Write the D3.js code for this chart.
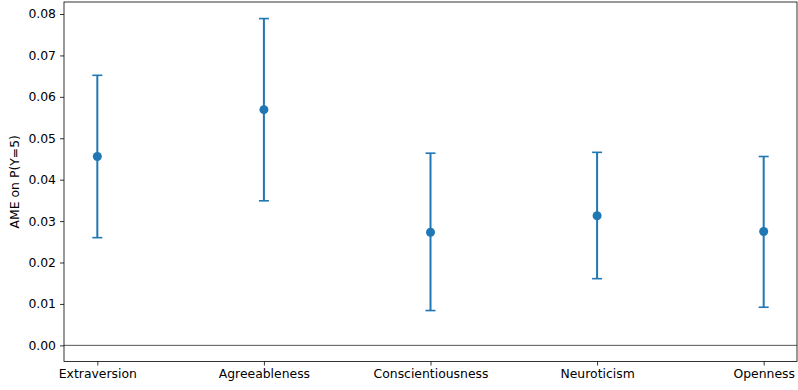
<!DOCTYPE html>
<html>
<head>
<meta charset="utf-8">
<script src="https://cdn.jsdelivr.net/npm/d3@7"></script>
<style>
body{margin:0;background:#fff;}
svg text{font-family:"DejaVu Sans",sans-serif;}
</style>
</head>
<body>
<svg id="c" width="798" height="390"></svg>
<script>
const categories = ["Extraversion","Agreeableness","Conscientiousness","Neuroticism","Openness"];
const ame = [0.0456, 0.0569, 0.0273, 0.0313, 0.0275];
const lower = [0.0260, 0.0349, 0.0084, 0.0161, 0.0092];
const upper = [0.0652, 0.0789, 0.0464, 0.0466, 0.0456];
const yTicks = [0.00,0.01,0.02,0.03,0.04,0.05,0.06,0.07,0.08];

const svg = d3.select("#c");
const L = 64, R = 797, T = 2, B = 361.5;
const color = "#1f77b4";

const x = d3.scaleLinear().domain([-0.2, 4.2]).range([L, R]);
const y = d3.scaleLinear().domain([-0.0039, 0.0829]).range([B, T]);

// zero line
svg.append("line").attr("x1", L).attr("x2", R).attr("y1", y(0)).attr("y2", y(0))
  .attr("stroke", "#444").attr("stroke-width", 0.9);

const g = svg.append("g");
categories.forEach((c, i) => {
  const cx = x(i);
  g.append("line").attr("x1", cx).attr("x2", cx).attr("y1", y(lower[i])).attr("y2", y(upper[i]))
    .attr("stroke", color).attr("stroke-width", 2);
  [lower[i], upper[i]].forEach(v => {
    g.append("line").attr("x1", cx - 5).attr("x2", cx + 5).attr("y1", y(v)).attr("y2", y(v))
      .attr("stroke", color).attr("stroke-width", 1.6);
  });
  g.append("circle").attr("cx", cx).attr("cy", y(ame[i])).attr("r", 4.5).attr("fill", color);
});

// axes
const xAxis = d3.axisBottom(x).tickValues(d3.range(categories.length)).tickFormat(i => categories[i])
  .tickSize(4).tickPadding(4);
const yAxis = d3.axisLeft(y).tickValues(yTicks).tickFormat(d3.format(".2f"))
  .tickSize(4).tickPadding(4);

const gx = svg.append("g").attr("transform", `translate(0,${B})`).call(xAxis);
const gy = svg.append("g").attr("transform", `translate(${L},0)`).call(yAxis);
[gx, gy].forEach(a => {
  a.select(".domain").remove();
  a.selectAll("line").attr("stroke", "#000").attr("stroke-width", 0.8);
  a.selectAll("text").attr("font-size", 12.4).attr("fill", "#000").attr("font-family", "DejaVu Sans");
});

// frame
svg.append("rect").attr("x", L).attr("y", T).attr("width", R - L).attr("height", B - T)
  .attr("fill", "none").attr("stroke", "#000").attr("stroke-width", 0.8);

svg.append("text").attr("transform", `translate(19,${(T + B) / 2}) rotate(-90)`)
  .attr("text-anchor", "middle").attr("font-size", 12.4).text("AME on P(Y=5)");
</script>
</body>
</html>
